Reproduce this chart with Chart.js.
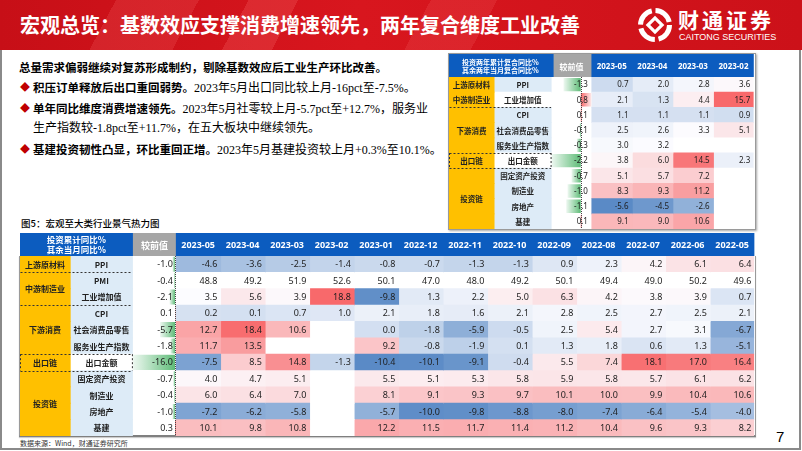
<!DOCTYPE html>
<html><head><meta charset="utf-8">
<script src="https://cdn.jsdelivr.net/npm/chart.js@4.4.0/dist/chart.umd.min.js"></script>
<style>
html,body{margin:0;padding:0;}
body{width:802px;height:451px;position:relative;overflow:hidden;background:#fff;font-family:"Noto Sans CJK SC","Noto Sans",sans-serif;}
#banner{position:absolute;left:0;top:0;width:802px;height:50px;
 background:
  linear-gradient(118deg, rgba(255,255,255,0) 0 14%, rgba(255,120,120,0.18) 14% 24%, rgba(255,255,255,0) 24% 30%, rgba(255,120,120,0.22) 30% 36%, rgba(255,255,255,0) 36% 52%, rgba(255,120,120,0.16) 52% 60%, rgba(255,255,255,0) 60%),
  linear-gradient(90deg,#c70f17,#d8161e 45%,#cc1119);}
#title{position:absolute;left:20px;top:11px;font-size:20px;font-weight:700;color:#fff;white-space:nowrap;line-height:28px;}
#logoTxt{position:absolute;left:678px;top:6px;font-size:21px;font-weight:700;color:#fff;letter-spacing:3px;line-height:26px;white-space:nowrap;}
#logoEn{position:absolute;left:679px;top:32px;font-family:"Liberation Sans",Arial,sans-serif;font-size:9px;color:#fff;line-height:11px;white-space:nowrap;}
#logoSvg{position:absolute;left:637px;top:5px;}
#frame{position:absolute;left:0;top:50px;width:801px;height:400px;box-sizing:border-box;border-left:2px solid #8a8a8a;border-right:2px solid #8a8a8a;border-bottom:2px solid #8a8a8a;}
.ln{position:absolute;font-size:11.5px;line-height:14px;white-space:nowrap;color:#000;}
.ln b{font-weight:700;}
.r{font-family:"Liberation Serif","Noto Sans CJK SC",serif;font-size:12px;font-weight:400;}
.dm{position:absolute;left:20px;font-size:10px;line-height:14px;color:#c00000;}
#cap{position:absolute;left:21px;top:216px;font-size:9.5px;font-weight:500;line-height:14px;color:#000;white-space:nowrap;}
#src{position:absolute;left:20px;top:438px;font-size:7px;line-height:10px;color:#333;white-space:nowrap;}
#pg{position:absolute;left:776px;top:428px;font-family:"Liberation Sans",Arial,sans-serif;font-size:15px;line-height:18px;color:#000;}
#topBox{position:absolute;left:448px;top:53px;width:308px;height:177px;box-sizing:border-box;border:1px solid #9a9a9a;box-shadow:1px 1px 2px rgba(0,0,0,0.35);}
#botBox{position:absolute;left:19px;top:256px;width:737px;height:181px;box-sizing:border-box;border-left:1px solid #9a9a9a;border-right:1px solid #9a9a9a;border-bottom:2px solid #7f7f7f;box-shadow:0 1px 1px rgba(0,0,0,0.2);}
canvas{position:absolute;}
</style></head>
<body>
<div id="banner"></div>
<div id="title">宏观总览：基数效应支撑消费增速领先，两年复合维度工业改善</div>
<svg id="logoSvg" width="36" height="40" viewBox="0 0 36 40">
 <circle cx="18" cy="20" r="14.5" fill="none" stroke="#fff" stroke-width="5" stroke-dasharray="19 3.8"/>
 <rect x="13" y="15" width="10" height="10" transform="rotate(45 18 20)" fill="none" stroke="#fff" stroke-width="3.2"/>
</svg>
<div id="logoTxt">财通证券</div>
<div id="logoEn">CAITONG SECURITIES</div>
<div id="frame"></div>

<div class="ln" style="top:60px;left:19px"><b>总量需求偏弱继续对复苏形成制约，剔除基数效应后工业生产环比改善。</b></div>
<div class="dm" style="top:80px">◆</div>
<div class="ln" style="top:80px;left:33px"><b>积压订单释放后出口重回弱势。</b><span class="r">2023年5月出口同比较上月-16pct至-7.5%。</span></div>
<div class="dm" style="top:101px">◆</div>
<div class="ln" style="top:101px;left:33px"><b>单年同比维度消费增速领先。</b><span class="r">2023年5月社零较上月-5.7pct至+12.7%，服务业</span></div>
<div class="ln" style="top:120px;left:33px"><span class="r">生产指数较-1.8pct至+11.7%，在五大板块中继续领先。</span></div>
<div class="dm" style="top:142px">◆</div>
<div class="ln" style="top:142px;left:33px"><b>基建投资韧性凸显，环比重回正增。</b><span class="r">2023年5月基建投资较上月+0.3%至10.1%。</span></div>

<div id="cap">图5：宏观至大类行业景气热力图</div>
<div id="src">数据来源：Wind，财通证券研究所</div>
<div id="pg">7</div>

<div id="topBox"></div>
<div id="botBox"></div>
<canvas id="cTop" width="306" height="175" style="left:449px;top:54px"></canvas>
<canvas id="cBot" width="735" height="203" style="left:20px;top:233px"></canvas>

<script>
// ---------- DATA ----------
const changeLabel = '较前值';

// bottom table (单年同比)
const bottomDates = ['2023-05','2023-04','2023-03','2023-02','2023-01','2022-12','2022-11','2022-10','2022-09','2022-08','2022-07','2022-06','2022-05'];
const bottomHeader = ['投资累计同比%','其余当月同比%'];
const bottomRows = ['PPI','PMI','工业增加值','CPI','社会消费品零售','服务业生产指数','出口金额','固定资产投资','制造业','房地产','基建'];
const bottomGroups = ['上游原材料','中游制造业','中游制造业','下游消费','下游消费','下游消费','出口链','投资链','投资链','投资链','投资链'];
const bottomChange = [-1.0,-0.4,-2.1,0.1,-5.7,-1.8,-16.0,-0.7,-0.4,-1.0,0.3];
const bPPI     = [-4.6,-3.6,-2.5,-1.4,-0.8,-0.7,-1.3,-1.3,0.9,2.3,4.2,6.1,6.4];
const bPMI     = [48.8,49.2,51.9,52.6,50.1,47.0,48.0,49.2,50.1,49.4,49.0,50.2,49.6];
const bIVA     = [3.5,5.6,3.9,18.8,-9.8,1.3,2.2,5.0,6.3,4.2,3.8,3.9,0.7];
const bCPI     = [0.2,0.1,0.7,1.0,2.1,1.8,1.6,2.1,2.8,2.5,2.7,2.5,2.1];
const bRetail  = [12.7,18.4,10.6,null,0.0,-1.8,-5.9,-0.5,2.5,5.4,2.7,3.1,-6.7];
const bService = [11.7,13.5,null,null,9.2,-0.8,-1.9,0.1,1.3,1.8,0.6,1.3,-5.1];
const bExport  = [-7.5,8.5,14.8,-1.3,-10.4,-10.1,-9.1,-0.4,5.5,7.4,18.1,17.0,16.4];
const bFAI     = [4.0,4.7,5.1,null,5.5,5.1,5.3,5.8,5.9,5.8,5.7,6.1,6.2];
const bMfg     = [6.0,6.4,7.0,null,8.1,9.1,9.3,9.7,10.1,10.0,9.9,10.4,10.6];
const bRE      = [-7.2,-6.2,-5.8,null,-5.7,-10.0,-9.8,-8.8,-8.0,-7.4,-6.4,-5.4,-4.0];
const bInfra   = [10.1,9.8,10.8,null,12.2,11.5,11.7,11.4,11.2,10.4,9.6,9.3,8.2];

// top table (两年复合)
const topDates = ['2023-05','2023-04','2023-03','2023-02'];
const topHeader = ['投资两年累计复合同比%','其余两年当月复合同比%'];
const topRows = ['PPI','工业增加值','CPI','社会消费品零售','服务业生产指数','出口金额','固定资产投资','制造业','房地产','基建'];
const topGroups = ['上游原材料','中游制造业','下游消费','下游消费','下游消费','出口链','投资链','投资链','投资链','投资链'];
const topChange = [-1.3,0.8,0.1,-0.1,-0.3,-2.2,-0.7,-1.0,-1.1,0.1];
const tPPI     = [0.7,2.0,2.8,3.6];
const tIVA     = [2.1,1.3,4.4,15.7];
const tCPI     = [1.1,1.1,1.1,0.9];
const tRetail  = [2.5,2.6,3.3,5.1];
const tService = [3.0,3.2,null,null];
const tExport  = [3.8,6.0,14.5,2.3];
const tFAI     = [5.1,5.7,7.2,null];
const tMfg     = [8.3,9.3,11.2,null];
const tRE      = [-5.6,-4.5,-2.6,null];
const tInfra   = [9.1,9.0,10.6,null];

// ---------- RENDER ----------
const CJK = '"Noto Sans CJK SC", "Noto Sans", sans-serif';
const NUM = '"Noto Sans", "Noto Sans CJK SC", sans-serif';
Chart.defaults.font.family = CJK;

function mix(a,b,t){return 'rgb('+a.map((v,i)=>Math.round(v+(b[i]-v)*t)).join(',')+')';}
const LO=[90,138,198], MD=[252,252,255], HI=[248,105,107];

function makeTable(id, t){
  const edges=[0]; t.widths.forEach(w=>edges.push(edges[edges.length-1]+w));
  const W = edges[edges.length-1];
  const nCols = t.dates.length;
  const vals=[];
  t.matrix.forEach((r,i)=>{ if(!t.noColor.includes(i)) r.forEach(v=>{ if(v!==null) vals.push(v); }); });
  const s = vals.slice().sort((a,b)=>a-b);
  const vmin=s[0], vmax=s[s.length-1];
  const mid = s.length%2 ? s[(s.length-1)/2] : (s[s.length/2-1]+s[s.length/2])/2;
  function heat(v,i){
    if(v===null || t.noColor.includes(i)) return '#ffffff';
    if(v<=mid) return mix(LO,MD,(v-vmin)/(mid-vmin));
    return mix(MD,HI,(v-mid)/(vmax-mid));
  }
  const cmin=Math.min(...t.change), cmax=Math.max(...t.change);
  const cw = edges[3]-edges[2], span=cmax-cmin;
  const x2min = cmin - (edges[2]/cw)*span, x2max = cmax + ((W-edges[3])/cw)*span;
  const ov = 0.7;
  const datasets=[];
  datasets.push({label:'chg', xAxisID:'x2', data:t.change.map(v=>[0,v]), barPercentage:t.barP,
    backgroundColor:(c)=>{
      const ch=c.chart, sc=ch.scales && ch.scales.x2; const v=t.change[c.dataIndex];
      const plain = v<0?'#63be7b':'#f8696b';
      if(!sc || !ch.ctx) return plain;
      const p0=sc.getPixelForValue(0), p1=sc.getPixelForValue(v);
      if(!isFinite(p0) || !isFinite(p1) || Math.abs(p1-p0)<1) return plain;
      const g=ch.ctx.createLinearGradient(p0,0,p1,0);
      if(v<0){g.addColorStop(0,'#5fbc78');g.addColorStop(1,'#eef8f1');}
      else{g.addColorStop(0,'#f8696b');g.addColorStop(1,'#fdeaea');}
      return g;
    }});
  datasets.push({label:'cat', data:t.rows.map(()=>[edges[0],edges[1]+ov]), backgroundColor:'#ffc000', barPercentage:1.05});
  datasets.push({label:'ind', data:t.rows.map(()=>[edges[1],edges[2]]), barPercentage:1.05,
    backgroundColor:t.rows.map((r,i)=>t.whiteRows.includes(i)?'#ffffff':'#ddebf7')});
  t.dates.forEach((d,j)=>{
    datasets.push({label:d, data:t.rows.map(()=>[edges[3+j], edges[4+j]+(j<nCols-1?ov:0)]), barPercentage:1.05,
      backgroundColor:t.matrix.map((r,i)=>heat(r[j],i))});
  });
  const tickPos=[(edges[0]+edges[2])/2,(edges[2]+edges[3])/2]; t.dates.forEach((d,j)=>tickPos.push((edges[3+j]+edges[4+j])/2));
  const tickLab=[t.header, changeLabel, ...t.dates];

  const plugin={
    id:'tbl',
    beforeDraw(chart){
      const {ctx, chartArea:a, scales:{x}}=chart;
      ctx.save();
      ctx.fillStyle='#0c5cbf'; ctx.fillRect(a.left, x.top, a.right-a.left, x.bottom-x.top);
      const p=x.getPixelForValue(edges[2]), q=x.getPixelForValue(edges[3]);
      ctx.fillStyle='#a6a6a6'; ctx.fillRect(p+t.grayInset, x.top, q-p-t.grayInset, x.bottom-x.top);
      ctx.restore();
    },
    afterDatasetsDraw(chart){
      const {ctx, chartArea:a, scales:{x,y,x2}}=chart;
      const n=t.rows.length, band=(a.bottom-a.top)/n;
      const cy=i=>y.getPixelForValue(i);
      ctx.save();
      const z=x2.getPixelForValue(0);
      ctx.strokeStyle='#444'; ctx.lineWidth=1; ctx.setLineDash([1,1]);
      ctx.beginPath(); ctx.moveTo(Math.round(z)+0.5,a.top); ctx.lineTo(Math.round(z)+0.5,a.bottom); ctx.stroke();
      ctx.setLineDash([]);
      ctx.fillStyle='#222'; ctx.textBaseline='middle'; ctx.textAlign='center';
      ctx.font='bold '+t.labFont+'px '+CJK;
      let i=0;
      while(i<n){ let k=i; while(k+1<n && t.groups[k+1]===t.groups[i]) k++;
        ctx.fillText(t.groups[i], x.getPixelForValue((edges[0]+edges[1])/2), (cy(i)+cy(k))/2+0.5); i=k+1; }
      t.rows.forEach((r,i)=>ctx.fillText(r, x.getPixelForValue((edges[1]+edges[2])/2), cy(i)+0.5));
      ctx.font=t.numFont+'px '+NUM; ctx.textAlign='right'; ctx.fillStyle='#1e1e1e';
      t.change.forEach((v,i)=>ctx.fillText(v.toFixed(1), x.getPixelForValue(edges[3])-t.padR, cy(i)+0.5));
      t.matrix.forEach((r,i)=>r.forEach((v,j)=>{ if(v!==null) ctx.fillText(v.toFixed(1), x.getPixelForValue(edges[4+j])-t.padR, cy(i)+0.5); }));
      ctx.strokeStyle='#333'; ctx.lineWidth=1; ctx.setLineDash([2,2]);
      const xl=x.getPixelForValue(edges[0])+0.5, xr=x.getPixelForValue(edges[2])-0.5;
      t.dashAfter.forEach(k=>{ const yy=Math.round(a.top+band*(k+1))+0.5;
        ctx.beginPath(); ctx.moveTo(xl,yy); ctx.lineTo(xr,yy); ctx.stroke(); });
      const ey0=a.top+band*t.exportRow, ey1=ey0+band;
      ctx.beginPath(); ctx.moveTo(xl,ey0); ctx.lineTo(xl,ey1); ctx.moveTo(xr,ey0); ctx.lineTo(xr,ey1); ctx.stroke();
      ctx.restore();
    }
  };

  const chart = new Chart(document.getElementById(id), {
    type:'bar',
    data:{labels:t.rows, datasets},
    options:{
      indexAxis:'y', responsive:false, animation:false, devicePixelRatio:1,
      layout:{padding:0},
      datasets:{bar:{categoryPercentage:1, grouped:false, borderWidth:0, borderSkipped:false}},
      plugins:{legend:{display:false}, tooltip:{enabled:false}},
      scales:{
        x:{type:'linear', position:'top', min:0, max:W, grid:{display:false, drawTicks:false}, border:{display:false},
          afterBuildTicks:(sc)=>{ sc.ticks=tickPos.map(v=>({value:v})); },
          afterFit:(sc)=>{ sc.height=t.headerH; },
          ticks:{autoSkip:false, maxRotation:0, minRotation:0, crossAlign:'center', padding:t.tickPad, color:'#ffffff',
            font:(c)=> c.index===0 ? {family:CJK, size:t.hdrFont, weight:'bold', lineHeight:1.2}
                                   : {family:(c.index===1?CJK:NUM), size:t.dateFont, weight:'bold', lineHeight:1.2},
            callback:(v,i)=>tickLab[i]}},
        x2:{type:'linear', display:false, min:x2min, max:x2max},
        y:{type:'category', display:false, grid:{display:false}}
      }
    },
    plugins:[plugin]
  });
  chart.update();
  return chart;
}

makeTable('cBot', {
  rows:bottomRows, groups:bottomGroups, change:bottomChange, dates:bottomDates, header:bottomHeader,
  matrix:[bPPI,bPMI,bIVA,bCPI,bRetail,bService,bExport,bFAI,bMfg,bRE,bInfra],
  widths:[50,63,43].concat(bottomDates.map(()=>44.54)),
  noColor:[1], whiteRows:[6], dashAfter:[0,2,5,6], exportRow:6,
  headerH:23, tickPad:6, hdrFont:8.5, dateFont:9, labFont:8, numFont:9, padR:3, barP:0.92, grayInset:0
});
makeTable('cTop', {
  rows:topRows, groups:topGroups, change:topChange, dates:topDates, header:topHeader,
  matrix:[tPPI,tIVA,tCPI,tRetail,tService,tExport,tFAI,tMfg,tRE,tInfra],
  widths:[45,58,40].concat(topDates.map(()=>40.75)),
  noColor:[], whiteRows:[1,5], dashAfter:[1,4,5], exportRow:5,
  headerH:23, tickPad:6.5, hdrFont:7, dateFont:8, labFont:7.5, numFont:8, padR:3.5, barP:0.88, grayInset:2
});
</script>
</body></html>
